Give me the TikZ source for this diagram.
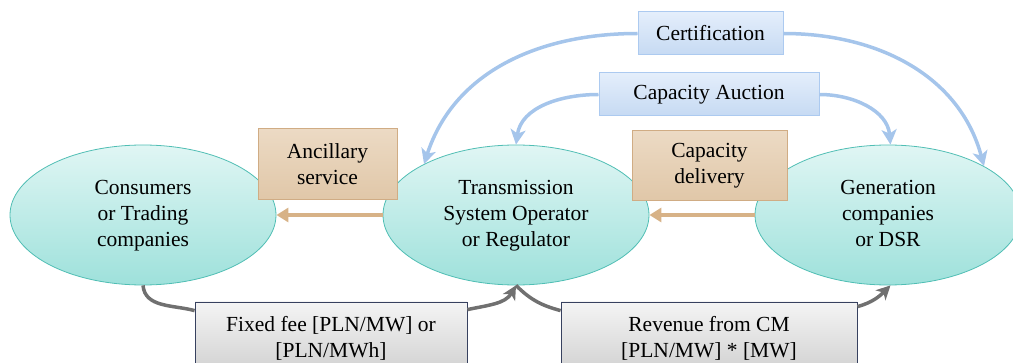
\documentclass[tikz,border=0pt]{standalone}
\usepackage{fontspec}
\setmainfont{Liberation Serif}
\usetikzlibrary{shapes.geometric,arrows.meta,calc}
\definecolor{ellTop}{RGB}{224,246,244}
\definecolor{ellBot}{RGB}{158,225,219}
\definecolor{ellBorder}{RGB}{80,190,180}
\definecolor{bluTop}{RGB}{228,238,251}
\definecolor{bluBot}{RGB}{198,218,243}
\definecolor{bluBorder}{RGB}{172,202,240}
\definecolor{brTop}{RGB}{236,218,196}
\definecolor{brBot}{RGB}{224,199,168}
\definecolor{brBorder}{RGB}{208,172,132}
\definecolor{grTop}{RGB}{244,244,244}
\definecolor{grBot}{RGB}{208,208,208}
\definecolor{grBorder}{RGB}{55,65,95}
\definecolor{bluArrow}{RGB}{165,197,235}
\definecolor{brArrow}{RGB}{215,178,135}
\definecolor{grArrow}{RGB}{112,112,112}
\newcommand{\elltext}[1]{\raisebox{-3pt}{\begin{tabular}{@{}c@{}}#1\end{tabular}}}
\begin{document}
\begin{tikzpicture}[x=1pt,y=-1pt,
  every node/.style={font=\fontsize{21.5}{26}\selectfont, align=center, inner sep=0pt},
  party/.style={ellipse, draw=ellBorder, line width=0.8pt, top color=ellTop, bottom color=ellBot, minimum width=266pt, minimum height=140pt},
  brbox/.style={rectangle, draw=brBorder, line width=1pt, top color=brTop, bottom color=brBot},
  blbox/.style={rectangle, draw=bluBorder, line width=1pt, top color=bluTop, bottom color=bluBot},
  grbox/.style={rectangle, draw=grBorder, line width=0.8pt, top color=grTop, bottom color=grBot},
  bluflow/.style={draw=bluArrow, line width=3.5pt, -{Stealth[length=15pt,width=15pt,inset=4pt]}},
  brflow/.style={draw=brArrow, line width=3.5pt, -{Triangle[length=12pt,width=14pt]}},
  grflow/.style={draw=grArrow, line width=3.5pt},
  grtip/.style={-{Stealth[length=14pt,width=14pt,inset=4pt]}}
]
\useasboundingbox (0,0) rectangle (1013,363);

\node[party] (cons) at (143,215) {\elltext{Consumers\\or Trading\\companies}};
\node[party] (tso) at (516,215) {\elltext{Transmission\\System Operator\\or Regulator}};
\node[party] (gen) at (888,215) {\elltext{Generation\\companies\\or DSR}};

\node[brbox, minimum width=139pt, minimum height=71pt] (anc) at (327.5,164.5) {Ancillary\\service};
\node[brbox, minimum width=155pt, minimum height=70pt] (cdel) at (709.5,166) {Capacity\\delivery};

\node[blbox, minimum width=145pt, minimum height=43pt] (cert) at (710.5,33.5) {Certification};
\node[blbox, minimum width=220pt, minimum height=43pt] (auct) at (709,94.5) {Capacity Auction};

\node[grbox, minimum width=272pt, minimum height=73pt] (fee) at (331,338.5) {Fixed fee [PLN/MW] or\\{}[PLN/MWh]};
\node[grbox, minimum width=296pt, minimum height=73pt] (rev) at (709,338.5) {Revenue from CM\\{}[PLN/MW] * [MW]};

% brown flows
\draw[brflow] (tso.west) -- (cons.east);
\draw[brflow] (gen.west) -- (tso.east);

% blue flows
\draw[bluflow] (cert.west) to[out=180,in=72] (tso.151);
\draw[bluflow] (auct.west) to[out=180,in=82] (tso.north);
\draw[bluflow] (cert.east) to[out=0,in=105] (gen.27);
\draw[bluflow] (auct.east) to[out=0,in=95] (gen.88);

% grey money flows
\draw[grflow] (cons.south) to[out=-85,in=165] ([yshift=-9pt]fee.north west);
\draw[grflow, grtip] ([yshift=-8pt]fee.north east) to[out=12,in=-120] (tso.south);
\draw[grflow] (tso.south) to[out=-45,in=165] ([yshift=-9pt]rev.north west);
\draw[grflow, grtip] ([yshift=-5pt]rev.north east) to[out=15,in=-135] (gen.272);
\end{tikzpicture}
\end{document}
